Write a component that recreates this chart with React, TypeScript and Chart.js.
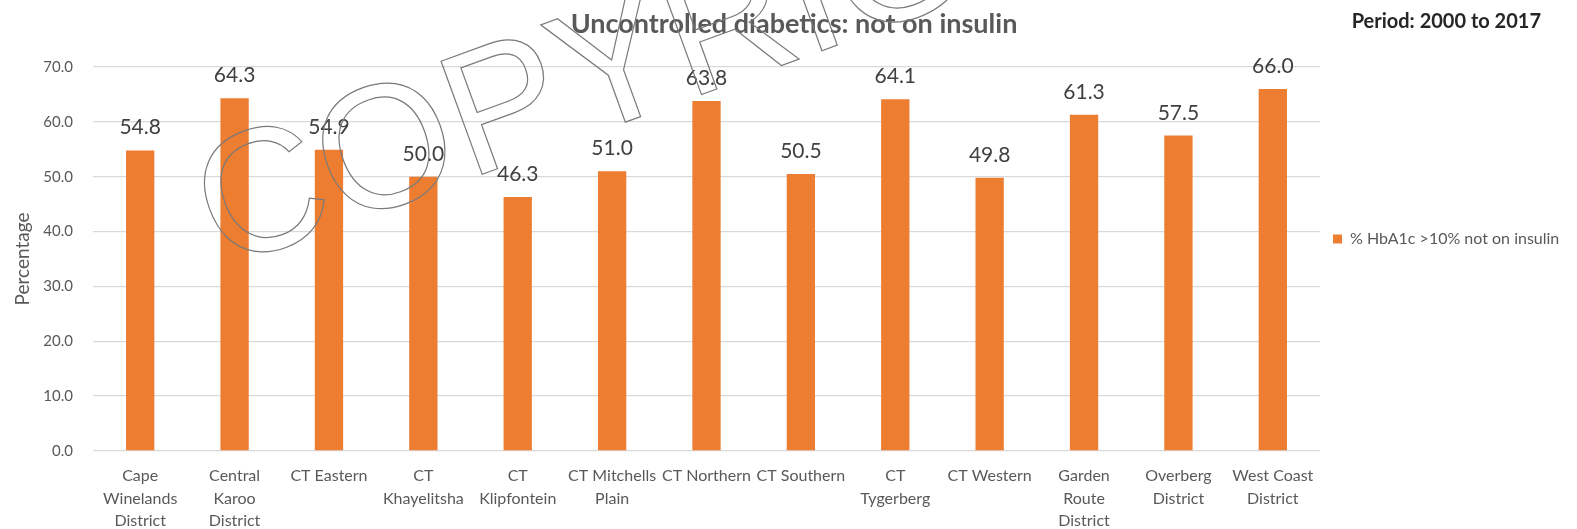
import { useEffect, useRef } from 'react';
import { Chart, registerables } from 'chart.js';

Chart.register(...registerables);

const categories: (string | string[])[] = [
  ['Cape', 'Winelands', 'District'],
  ['Central', 'Karoo', 'District'],
  'CT Eastern',
  ['CT', 'Khayelitsha'],
  ['CT', 'Klipfontein'],
  ['CT Mitchells', 'Plain'],
  'CT Northern',
  'CT Southern',
  ['CT', 'Tygerberg'],
  'CT Western',
  ['Garden', 'Route', 'District'],
  ['Overberg', 'District'],
  ['West Coast', 'District'],
];

const values = [54.8, 64.3, 54.9, 50.0, 46.3, 51.0, 63.8, 50.5, 64.1, 49.8, 61.3, 57.5, 66.0];

const yMin = 0;
const yMax = 70;
const yStep = 10;

const titleText = 'Uncontrolled diabetics: not on insulin';
const periodText = 'Period: 2000 to 2017';
const seriesLabel = '% HbA1c >10% not on insulin';
const yAxisLabel = 'Percentage';
const watermarkText = 'COPYRIGHT';

const BAR_COLOR = '#ED7D31';
const TEXT_COLOR = '#595959';
const FONT = 'Lato, "Open Sans", sans-serif';

export default function App() {
  const canvasRef = useRef<HTMLCanvasElement | null>(null);

  useEffect(() => {
    const canvas = canvasRef.current;
    if (!canvas) return;

    const extras = {
      id: 'extras',
      afterLayout(chart: any) {
        const lg = chart.legend;
        if (lg) {
          lg.top -= 20;
          lg.bottom -= 20;
        }
      },
      afterDatasetsDraw(chart: any) {
        const ctx = chart.ctx;
        const meta = chart.getDatasetMeta(0);
        ctx.save();
        ctx.font = `21px ${FONT}`;
        ctx.fillStyle = '#404040';
        ctx.textAlign = 'center';
        ctx.textBaseline = 'alphabetic';
        meta.data.forEach((el: any, i: number) => {
          ctx.fillText(values[i].toFixed(1), el.x, el.y - 16);
        });
        ctx.restore();
      },
      afterDraw(chart: any) {
        const ctx = chart.ctx;
        ctx.save();
        ctx.font = `bold 20px ${FONT}`;
        ctx.fillStyle = '#262626';
        ctx.textAlign = 'right';
        ctx.textBaseline = 'alphabetic';
        ctx.fillText(periodText, 1541, 27.5);
        ctx.restore();

        ctx.save();
        ctx.translate(222, 269);
        ctx.rotate((-20 * Math.PI) / 180);
        ctx.font = '175px "Liberation Sans", Arial, sans-serif';
        ctx.strokeStyle = '#7a7a7a';
        ctx.lineWidth = 1.2;
        ctx.strokeText(watermarkText, 0, 0);
        ctx.restore();
      },
    };

    const chart = new Chart(canvas, {
      type: 'bar',
      data: {
        labels: categories,
        datasets: [
          {
            label: seriesLabel,
            data: values,
            backgroundColor: BAR_COLOR,
            borderWidth: 0,
            barPercentage: 0.3,
            categoryPercentage: 1,
          },
        ],
      },
      options: {
        responsive: false,
        animation: false,
        layout: { padding: { left: 24, right: 13, top: 0, bottom: 0 } },
        plugins: {
          title: {
            display: true,
            text: titleText,
            color: TEXT_COLOR,
            font: { family: FONT, size: 27, weight: 'bold', lineHeight: 1.2 },
            padding: { top: 7.8, bottom: 26.8 },
          },
          legend: {
            display: true,
            position: 'right',
            fullSize: false,
            maxWidth: 244,
            labels: {
              color: TEXT_COLOR,
              font: { family: FONT, size: 16 },
              boxWidth: 9,
              boxHeight: 9,
              padding: 13,
            },
          },
          tooltip: { enabled: false },
        },
        scales: {
          x: {
            grid: { display: false, drawTicks: false },
            border: { display: false },
            ticks: {
              color: TEXT_COLOR,
              font: { family: FONT, size: 16, lineHeight: 1.4 },
              padding: 14,
              autoSkip: false,
              maxRotation: 0,
              minRotation: 0,
            },
            afterFit(scale: any) {
              scale.height = 78;
            },
          },
          y: {
            min: yMin,
            max: yMax,
            grid: { color: '#d9d9d9', lineWidth: 1.3, drawTicks: false },
            border: { display: false },
            ticks: {
              stepSize: yStep,
              color: TEXT_COLOR,
              font: { family: FONT, size: 15 },
              padding: 20,
              callback: (v: any) => Number(v).toFixed(1),
            },
            title: {
              display: true,
              text: yAxisLabel,
              color: TEXT_COLOR,
              font: { family: FONT, size: 19, lineHeight: 1.2 },
              padding: { top: -12.4, bottom: 0 },
            },
            afterFit(scale: any) {
              scale.width = 69;
            },
          },
        },
      },
      plugins: [extras],
    } as any);

    let alive = true;
    if ((document as any).fonts && (document as any).fonts.load) {
      Promise.all([
        (document as any).fonts.load(`16px Lato`),
        (document as any).fonts.load(`bold 24px Lato`),
        (document as any).fonts.load(`175px "Liberation Sans"`),
      ])
        .then(() => {
          if (alive) chart.update();
        })
        .catch(() => {});
    }

    return () => {
      alive = false;
      chart.destroy();
    };
  }, []);

  return (
    <div style={{ position: 'fixed', left: 0, top: 0, width: 1577, height: 529, background: '#fff' }}>
      <canvas ref={canvasRef} width={1577} height={529} style={{ display: 'block' }} />
    </div>
  );
}
